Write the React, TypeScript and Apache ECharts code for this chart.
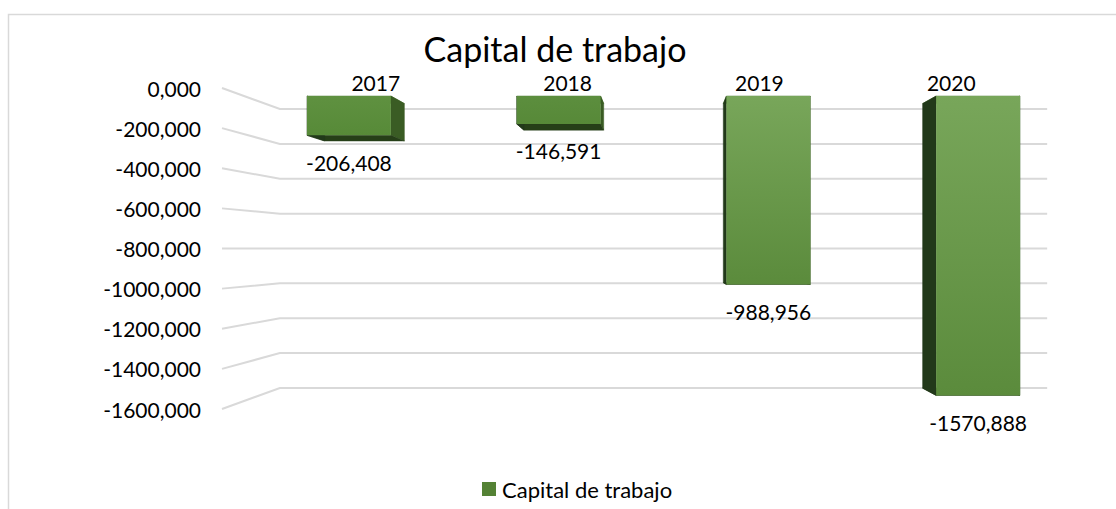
import React, { useEffect, useRef } from "react";
import * as echarts from "echarts";

const categories = ["2017", "2018", "2019", "2020"];
const values = [-206.408, -146.591, -988.956, -1570.888];
const tickValues = [0, -200, -400, -600, -800, -1000, -1200, -1400, -1600];
const seriesName = "Capital de trabajo";
const titleText = "Capital de trabajo";

const FONT = "Lato, 'Open Sans', sans-serif";
const T_WALL = 0.131;
const T_FRONT = 0.05;
const T_BACK = 0.097;
const BAR_RATIO = 0.4;

const fmt = (v: number) => v.toFixed(3).replace(".", ",");

function hex(c: string) {
  return [1, 3, 5].map((i) => parseInt(c.slice(i, i + 2), 16));
}
function mix(a: string, b: string, f: number) {
  const A = hex(a), B = hex(b);
  return (
    "rgb(" +
    A.map((x, i) => Math.round(x + (B[i] - x) * f)).join(",") +
    ")"
  );
}

export default function App() {
  const ref = useRef<HTMLDivElement>(null);
  useEffect(() => {
    if (!ref.current) return;
    const chart = echarts.init(ref.current, null, { renderer: "svg" });
    const persp = (cs: any) => {
      const vx = cs.x + cs.width / 2;
      const vy = cs.y + cs.height / 2;
      return (x: number, y: number, t: number) => [x + t * (vx - x), y + t * (vy - y)];
    };
    const textEl = (x: number, y: number, text: string) => ({
      type: "text",
      x,
      y,
      z2: 10,
      style: {
        text,
        fill: "#000000",
        stroke: "none",
        lineWidth: 0,
        font: "21px " + FONT,
        textAlign: "center",
        textVerticalAlign: "middle",
      },
    });
    const option: any = {
      animation: false,
      backgroundColor: "#ffffff",
      title: {
        text: titleText,
        left: 555,
        top: 31,
        padding: 0,
        textAlign: "center",
        textStyle: { fontFamily: FONT, fontSize: 34, fontWeight: "normal", color: "#000000" },
      },
      legend: {
        left: 477,
        top: 473,
        itemWidth: 14,
        itemHeight: 14,
        icon: "rect",
        data: [seriesName],
        textStyle: { fontFamily: FONT, fontSize: 22, color: "#000000", padding: [0, 0, 0, 1] },
      },
      graphic: [
        {
          type: "rect",
          silent: true,
          shape: { x: 8.5, y: 14.5, width: 1300, height: 700 },
          style: { fill: "none", stroke: "#d9d9d9", lineWidth: 1.5 },
          z: -10,
        },
      ],
      grid: { left: 222, right: 11, top: 88, bottom: 100, containLabel: false },
      xAxis: {
        type: "category",
        data: categories,
        show: false,
      },
      yAxis: {
        type: "value",
        min: -1600,
        max: 0,
        interval: 200,
        axisLine: { show: false },
        axisTick: { show: false },
        splitLine: { show: false },
        axisLabel: {
          formatter: (v: number) => fmt(v),
          fontFamily: FONT,
          fontSize: 21,
          color: "#000000",
          margin: 21,
          padding: [4, 0, 0, 0],
        },
      },
      series: [
        {
          type: "custom",
          name: "grid-walls",
          silent: true,
          z: 1,
          data: tickValues.map((v) => [0, v]),
          encode: { x: 0, y: 1 },
          renderItem: (params: any, api: any) => {
            const cs = params.coordSys;
            const P = persp(cs);
            const y = api.coord([0, api.value(1)])[1];
            const a = [cs.x, y];
            const b = P(cs.x, y, T_WALL);
            const c = P(cs.x + cs.width, y, T_WALL);
            return {
              type: "polyline",
              shape: { points: [a, b, [c[0], b[1]]] },
              style: { stroke: "#d9d9d9", lineWidth: 2, fill: "none" },
            };
          },
        },
        {
          type: "custom",
          name: seriesName,
          z: 2,
          itemStyle: { color: "#548235" },
          data: values.map((v, i) => [i, v]),
          encode: { x: 0, y: 1 },
          renderItem: (params: any, api: any) => {
            const cs = params.coordSys;
            const P = persp(cs);
            const i = api.value(0);
            const v = api.value(1);
            const base = api.coord([i, 0]);
            const end = api.coord([i, v]);
            const w = api.size([1, 0])[0] * BAR_RATIO;
            const xl = base[0] - w / 2;
            const xr = base[0] + w / 2;
            const yt = Math.min(base[1], end[1]);
            const yb = Math.max(base[1], end[1]);
            const f = [P(xl, yt, T_FRONT), P(xr, yt, T_FRONT), P(xr, yb, T_FRONT), P(xl, yb, T_FRONT)];
            const b = [P(xl, yt, T_BACK), P(xr, yt, T_BACK), P(xr, yb, T_BACK), P(xl, yb, T_BACK)];
            const h = f[3][1] - f[0][1];
            const frac = Math.min(1, h / 150);
            const grad = new echarts.graphic.LinearGradient(0, 0, 0, 1, [
              { offset: 0, color: mix("#568937", "#78a65a", frac) },
              { offset: 1, color: mix("#568937", "#5b8b3c", frac) },
            ]);
            const poly = (pts: number[][], fill: any) => ({
              type: "polygon",
              shape: { points: pts },
              style: { fill, stroke: fill, lineWidth: 0.5 },
            });
            const topLabel = P(base[0], base[1], T_WALL);
            const children: any[] = [
              poly([f[0], f[1], b[1], b[0]], "#4a7a2e"),
              poly([f[1], f[2], b[2], b[1]], "#3a5c24"),
              poly([f[3], f[2], b[2], b[3]], "#263f18"),
              poly([f[0], f[3], b[3], b[0]], "#22391a"),
              {
                type: "polygon",
                shape: { points: f },
                style: { fill: grad },
              },
              textEl(topLabel[0], topLabel[1] - 27, categories[i]),
              textEl((f[2][0] + f[3][0]) / 2, f[3][1] + 27, fmt(v)),
            ];
            return { type: "group", children };
          },
        },
      ],
    };
    chart.setOption(option);
    return () => chart.dispose();
  }, []);
  return (
    <div
      ref={ref}
      style={{ position: "fixed", left: 0, top: 0, width: 1116, height: 509, background: "#fff" }}
    />
  );
}
